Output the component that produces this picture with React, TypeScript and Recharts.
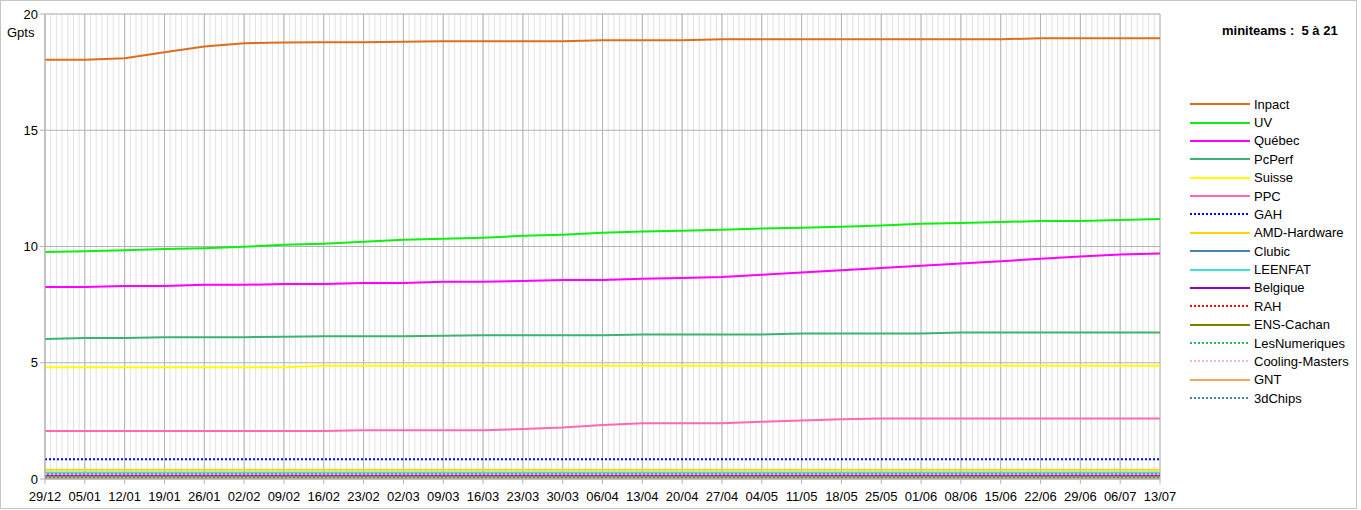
import { LineChart, Line, XAxis, YAxis, CartesianGrid, Legend } from "recharts";

const weekLabels = [
  "29/12", "05/01", "12/01", "19/01", "26/01", "02/02", "09/02", "16/02", "23/02", "02/03",
  "09/03", "16/03", "23/03", "30/03", "06/04", "13/04", "20/04", "27/04", "04/05", "11/05",
  "18/05", "25/05", "01/06", "08/06", "15/06", "22/06", "29/06", "06/07", "13/07",
];
const days = [
  0, 7, 14, 21, 28, 35, 42, 49, 56, 63, 70, 77, 84, 91, 98, 105, 112, 119, 126, 133,
  140, 147, 154, 161, 168, 175, 182, 189, 196,
];

const inpact = [18.03, 18.03, 18.1, 18.35, 18.6, 18.74, 18.77, 18.78, 18.78, 18.81, 18.83, 18.83, 18.83, 18.83, 18.87, 18.87, 18.87, 18.91, 18.91, 18.91, 18.91, 18.91, 18.91, 18.91, 18.91, 18.96, 18.96, 18.96, 18.96];
const uv = [9.76, 9.8, 9.84, 9.89, 9.93, 9.99, 10.07, 10.12, 10.2, 10.29, 10.33, 10.38, 10.46, 10.51, 10.59, 10.64, 10.68, 10.72, 10.77, 10.81, 10.85, 10.9, 10.98, 11.01, 11.05, 11.1, 11.1, 11.14, 11.18];
const quebec = [8.26, 8.26, 8.3, 8.3, 8.35, 8.35, 8.39, 8.39, 8.43, 8.43, 8.48, 8.48, 8.52, 8.56, 8.56, 8.61, 8.65, 8.69, 8.78, 8.88, 8.98, 9.08, 9.17, 9.27, 9.37, 9.47, 9.57, 9.66, 9.7];
const pcperf = [6.02, 6.06, 6.06, 6.1, 6.1, 6.1, 6.12, 6.14, 6.14, 6.14, 6.16, 6.18, 6.18, 6.18, 6.18, 6.22, 6.22, 6.22, 6.22, 6.26, 6.26, 6.26, 6.26, 6.3, 6.3, 6.3, 6.3, 6.3, 6.3];
const suisse = [4.81, 4.81, 4.81, 4.81, 4.81, 4.81, 4.81, 4.87, 4.87, 4.87, 4.87, 4.87, 4.87, 4.87, 4.87, 4.87, 4.87, 4.87, 4.87, 4.87, 4.87, 4.87, 4.87, 4.87, 4.87, 4.87, 4.87, 4.87, 4.87];
const ppc = [2.06, 2.06, 2.06, 2.06, 2.06, 2.06, 2.06, 2.06, 2.1, 2.1, 2.1, 2.1, 2.15, 2.21, 2.32, 2.4, 2.4, 2.4, 2.46, 2.52, 2.57, 2.6, 2.6, 2.6, 2.6, 2.6, 2.6, 2.6, 2.6];
const gah = [0.85, 0.85, 0.85, 0.85, 0.85, 0.85, 0.85, 0.85, 0.85, 0.85, 0.85, 0.85, 0.85, 0.85, 0.85, 0.85, 0.85, 0.85, 0.85, 0.85, 0.85, 0.85, 0.85, 0.85, 0.85, 0.85, 0.85, 0.85, 0.85];
const amd = [0.4, 0.4, 0.4, 0.4, 0.4, 0.4, 0.4, 0.4, 0.4, 0.4, 0.4, 0.4, 0.4, 0.4, 0.4, 0.4, 0.4, 0.4, 0.4, 0.4, 0.4, 0.4, 0.4, 0.4, 0.4, 0.4, 0.4, 0.4, 0.4];
const clubic = [0.25, 0.25, 0.25, 0.25, 0.25, 0.25, 0.25, 0.25, 0.25, 0.25, 0.25, 0.25, 0.25, 0.25, 0.25, 0.25, 0.25, 0.25, 0.25, 0.25, 0.25, 0.25, 0.25, 0.25, 0.25, 0.25, 0.25, 0.25, 0.25];
const leenfat = [0.28, 0.28, 0.28, 0.28, 0.28, 0.28, 0.28, 0.28, 0.28, 0.28, 0.28, 0.28, 0.28, 0.28, 0.28, 0.28, 0.28, 0.28, 0.28, 0.28, 0.28, 0.28, 0.28, 0.28, 0.28, 0.28, 0.28, 0.28, 0.28];
const belgique = [0.15, 0.15, 0.15, 0.15, 0.15, 0.15, 0.15, 0.15, 0.15, 0.15, 0.15, 0.15, 0.15, 0.15, 0.15, 0.15, 0.15, 0.15, 0.15, 0.15, 0.15, 0.15, 0.15, 0.15, 0.15, 0.15, 0.15, 0.15, 0.15];
const rah = [0.18, 0.18, 0.18, 0.18, 0.18, 0.18, 0.18, 0.18, 0.18, 0.18, 0.18, 0.18, 0.18, 0.18, 0.18, 0.18, 0.18, 0.18, 0.18, 0.18, 0.18, 0.18, 0.18, 0.18, 0.18, 0.18, 0.18, 0.18, 0.18];
const ensCachan = [0.08, 0.08, 0.08, 0.08, 0.08, 0.08, 0.08, 0.08, 0.08, 0.08, 0.08, 0.08, 0.08, 0.08, 0.08, 0.08, 0.08, 0.08, 0.08, 0.08, 0.08, 0.08, 0.08, 0.08, 0.08, 0.08, 0.08, 0.08, 0.08];
const lesNumeriques = [0.1, 0.1, 0.1, 0.1, 0.1, 0.1, 0.1, 0.1, 0.1, 0.1, 0.1, 0.1, 0.1, 0.1, 0.1, 0.1, 0.1, 0.1, 0.1, 0.1, 0.1, 0.1, 0.1, 0.1, 0.1, 0.1, 0.1, 0.1, 0.1];
const coolingMasters = [0.2, 0.2, 0.2, 0.2, 0.2, 0.2, 0.2, 0.2, 0.2, 0.2, 0.2, 0.2, 0.2, 0.2, 0.2, 0.2, 0.2, 0.2, 0.2, 0.2, 0.2, 0.2, 0.2, 0.2, 0.2, 0.2, 0.2, 0.2, 0.2];
const gnt = [0.05, 0.05, 0.05, 0.05, 0.05, 0.05, 0.05, 0.05, 0.05, 0.05, 0.05, 0.05, 0.05, 0.05, 0.05, 0.05, 0.05, 0.05, 0.05, 0.05, 0.05, 0.05, 0.05, 0.05, 0.05, 0.05, 0.05, 0.05, 0.05];
const chips3d = [0.06, 0.06, 0.06, 0.06, 0.06, 0.06, 0.06, 0.06, 0.06, 0.06, 0.06, 0.06, 0.06, 0.06, 0.06, 0.06, 0.06, 0.06, 0.06, 0.06, 0.06, 0.06, 0.06, 0.06, 0.06, 0.06, 0.06, 0.06, 0.06];

type Serie = { name: string; values: number[]; color: string; dash?: string };

const series: Serie[] = [
  { name: "Inpact", values: inpact, color: "#e06d1e" },
  { name: "UV", values: uv, color: "#11ee11" },
  { name: "Québec", values: quebec, color: "#ff00ff" },
  { name: "PcPerf", values: pcperf, color: "#3cb371" },
  { name: "Suisse", values: suisse, color: "#ffff00" },
  { name: "PPC", values: ppc, color: "#ff69b4" },
  { name: "GAH", values: gah, color: "#0000ff", dash: "2 2" },
  { name: "AMD-Hardware", values: amd, color: "#ffd700" },
  { name: "Clubic", values: clubic, color: "#4682b4" },
  { name: "LEENFAT", values: leenfat, color: "#40e0d0" },
  { name: "Belgique", values: belgique, color: "#9400d3" },
  { name: "RAH", values: rah, color: "#ff0000", dash: "2 2" },
  { name: "ENS-Cachan", values: ensCachan, color: "#808000" },
  { name: "LesNumeriques", values: lesNumeriques, color: "#2eb368", dash: "2 2" },
  { name: "Cooling-Masters", values: coolingMasters, color: "#ffb6c1", dash: "2 2" },
  { name: "GNT", values: gnt, color: "#f4a460" },
  { name: "3dChips", values: chips3d, color: "#4682b4", dash: "2 2" },
];

const data = days.map((day, i) => {
  const row: Record<string, number> = { day };
  series.forEach((s) => (row[s.name] = s.values[i]));
  return row;
});

// one grid line per day and per Gpt
const dayTicks = Array.from({ length: 197 }, (_, i) => i);
const minorYTicks = Array.from({ length: 21 }, (_, i) => i);

const font = "'Liberation Sans', Arial, sans-serif";

function renderLegend() {
  return (
    <div style={{ fontFamily: font, fontSize: 13, color: "#000" }}>
      <div style={{ marginTop: 22, paddingLeft: 32, height: 18, lineHeight: "18px", fontWeight: "bold", whiteSpace: "pre" }}>
        miniteams :  5 à 21
      </div>
      <div style={{ marginTop: 55 }}>
        {series.map((s) => (
          <div key={s.name} style={{ display: "flex", alignItems: "center", height: 18.375 }}>
            <svg width={60} height={4} style={{ marginRight: 4 }}>
              <line x1={0} y1={2} x2={60} y2={2} stroke={s.color} strokeWidth={2} strokeDasharray={s.dash} />
            </svg>
            <span>{s.name}</span>
          </div>
        ))}
      </div>
    </div>
  );
}

export default function App() {
  return (
    <div style={{ position: "absolute", left: 0, top: 0, width: 1361, height: 510, background: "#fff" }}>
      <LineChart
        width={1361}
        height={510}
        data={data}
        margin={{ top: 14, right: 201, bottom: 6, left: 0 }}
        style={{ fontFamily: font }}
      >
        <XAxis xAxisId="minor" type="number" dataKey="day" domain={[0, 196]} ticks={dayTicks} interval={0} hide />
        <YAxis yAxisId="minor" type="number" domain={[0, 20]} ticks={minorYTicks} interval={0} hide />
        <CartesianGrid xAxisId="minor" yAxisId="minor" stroke="#e2e2e2" />
        <XAxis
          type="number"
          dataKey="day"
          domain={[0, 196]}
          ticks={days}
          interval={0}
          height={25}
          tickSize={5}
          tickMargin={8}
          tickFormatter={(v: number) => weekLabels[days.indexOf(v)]}
          tick={{ fill: "#000", fontSize: 13 }}
          stroke="#b3b3b3"
        />
        <YAxis
          type="number"
          domain={[0, 20]}
          ticks={[0, 5, 10, 15, 20]}
          interval={0}
          width={45}
          tickSize={5}
          tick={{ fill: "#000", fontSize: 13 }}
          stroke="#b3b3b3"
        />
        <CartesianGrid stroke="#b3b3b3" />
        {series.map((s) => (
          <Line
            key={s.name}
            dataKey={s.name}
            type="linear"
            stroke={s.color}
            strokeWidth={2}
            strokeDasharray={s.dash}
            dot={false}
            isAnimationActive={false}
          />
        ))}
        <Legend
          layout="vertical"
          align="center"
          verticalAlign="middle"
          wrapperStyle={{ left: 1190, top: 0, width: 170 }}
          content={renderLegend}
        />
      </LineChart>
      <div style={{ position: "absolute", left: 7, top: 25, fontFamily: font, fontSize: 13, lineHeight: "16px" }}>Gpts</div>
      <div
        style={{
          position: "absolute",
          left: 0,
          top: 0,
          width: 1357,
          height: 509,
          border: "1px solid #c6c6c6",
          boxSizing: "border-box",
          pointerEvents: "none",
        }}
      />
    </div>
  );
}
